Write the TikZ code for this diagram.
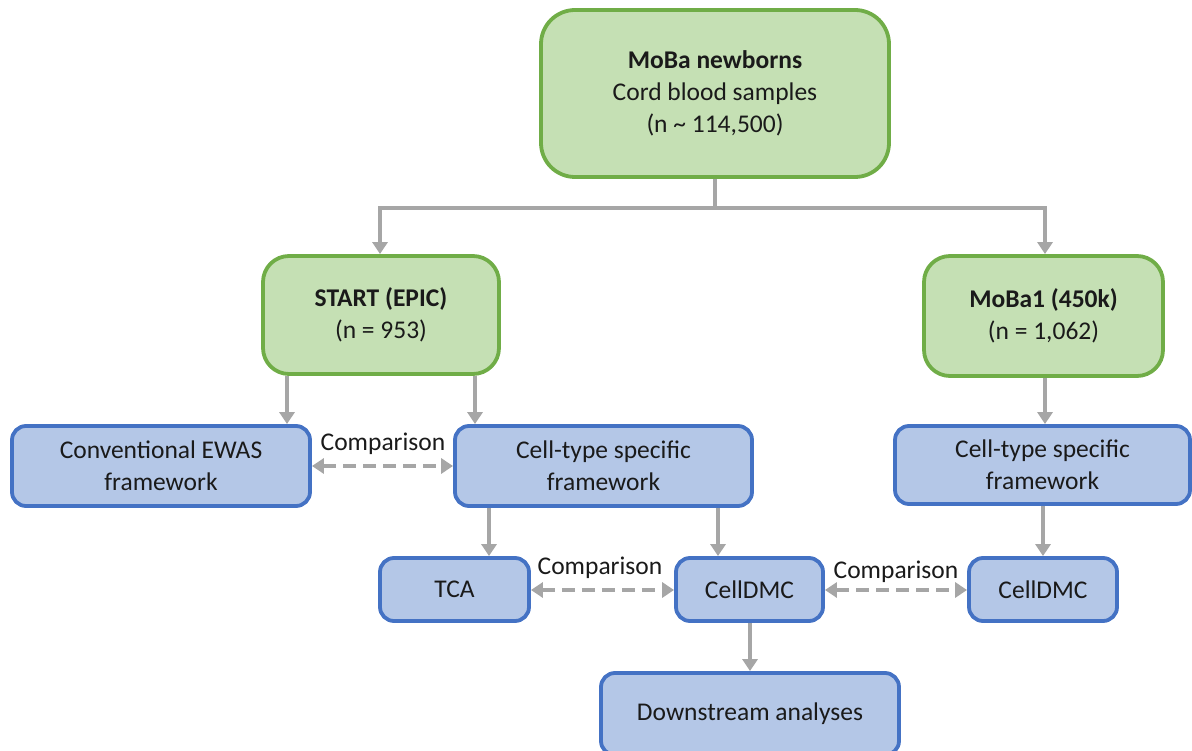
\documentclass[tikz,border=0pt]{standalone}
\usepackage{fontspec}
\setmainfont{Carlito}
\usetikzlibrary{arrows.meta}
\definecolor{gfill}{HTML}{C5E0B4}
\definecolor{gdraw}{HTML}{70AD47}
\definecolor{bfill}{HTML}{B4C7E7}
\definecolor{bdraw}{HTML}{4472C4}
\definecolor{arr}{HTML}{A6A6A6}
\definecolor{txt}{HTML}{1A1A1A}
\tikzset{
  gbox/.style={draw=gdraw, fill=gfill, line width=3.8pt, rounded corners=26pt, align=center, text=txt, inner sep=0pt},
  bbox/.style={draw=bdraw, fill=bfill, line width=3.8pt, rounded corners=14pt, align=center, text=txt, inner sep=0pt},
  conn/.style={draw=arr, line width=3.8pt, -{Triangle[width=15pt,length=12pt]}},
  plain/.style={draw=arr, line width=3.8pt},
  cmp/.style={draw=arr, line width=3.8pt, dash pattern=on 13pt off 7pt, {Triangle[width=15pt,length=12pt]}-{Triangle[width=15pt,length=12pt]}},
  lbl/.style={text=txt, inner sep=0pt}
}
\begin{document}
\begin{tikzpicture}[x=1pt,y=-1pt,font=\fontsize{25.5}{32}\selectfont]
\useasboundingbox (0,0) rectangle (1192,751);
\begin{scope}
\clip (0,0) rectangle (1192,751);
\node[gbox, minimum width=348pt, minimum height=167pt, rounded corners=34pt] (top) at (715,93.5) {\textbf{MoBa newborns}\\Cord blood samples\\(n \textasciitilde{} 114,500)};
\node[gbox, minimum width=236pt, minimum height=118pt] (start) at (381,315) {\textbf{START (EPIC)}\\(n = 953)};
\node[gbox, minimum width=239pt, minimum height=120pt] (moba) at (1043.5,316) {\textbf{MoBa1 (450k)}\\(n = 1,062)};
\node[bbox, minimum width=298pt, minimum height=80pt] (conv) at (161,466) {Conventional EWAS\\framework};
\node[bbox, minimum width=297pt, minimum height=80pt] (cts) at (603.5,466) {Cell-type specific\\framework};
\node[bbox, minimum width=295pt, minimum height=78pt] (cts2) at (1042.5,465) {Cell-type specific\\framework};
\node[bbox, minimum width=149pt, minimum height=63pt] (tca) at (454.5,589.5) {TCA};
\node[bbox, minimum width=147pt, minimum height=63pt] (cd) at (749.5,589.5) {CellDMC};
\node[bbox, minimum width=148pt, minimum height=63pt] (cd2) at (1043,589.5) {CellDMC};
\node[bbox, minimum width=298pt, minimum height=82pt] (down) at (750,714) {Downstream analyses};

\coordinate (split) at (715,208);
\coordinate (splitL) at (380,208);
\coordinate (splitR) at (1045,208);
\draw[plain] (top.south -| split) -- (split);
\draw[plain] ([xshift=-1.9pt]splitL) -- ([xshift=1.9pt]splitR);
\draw[conn] (splitL) -- (splitL |- start.north);
\draw[conn] (splitR) -- (splitR |- moba.north);

\draw[conn] (start.south -| 287,0) -- (conv.north -| 287,0);
\draw[conn] (start.south -| 475,0) -- (cts.north -| 475,0);
\draw[conn] (moba.south -| 1045,0) -- (cts2.north -| 1045,0);
\draw[conn] (cts.south -| 489,0) -- (tca.north -| 489,0);
\draw[conn] (cts.south -| 718,0) -- (cd.north -| 718,0);
\draw[conn] (cts2.south -| 1043,0) -- (cd2.north -| 1043,0);
\draw[conn] (cd.south -| 750,0) -- (down.north -| 750,0);

\draw[cmp] (conv.east |- 0,466) -- (cts.west |- 0,466);
\draw[cmp] (tca.east |- 0,590) -- (cd.west |- 0,590);
\draw[cmp] (cd.east |- 0,590) -- (cd2.west |- 0,590);

\node[lbl] (l1) at (383,444) {Comparison};
\node[lbl] (l2) at (600,568) {Comparison};
\node[lbl] (l3) at (896,572) {Comparison};
\end{scope}
\end{tikzpicture}
\end{document}
